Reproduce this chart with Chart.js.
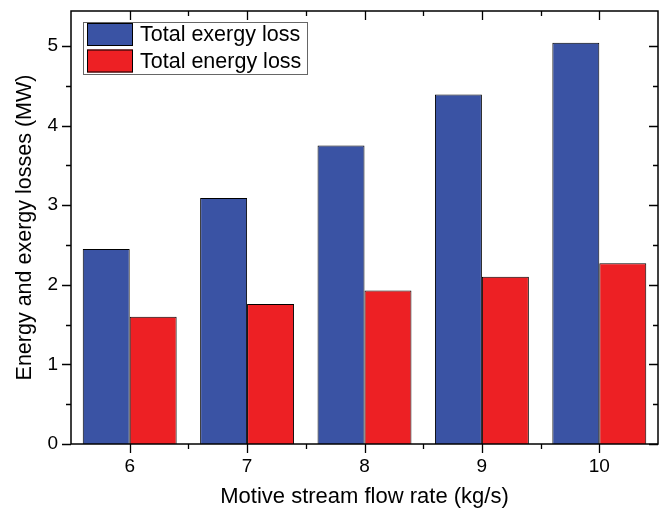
<!DOCTYPE html>
<html>
<head>
<meta charset="utf-8">
<script src="https://cdn.jsdelivr.net/npm/chart.js@4/dist/chart.umd.min.js"></script>
<style>
  html, body { margin: 0; padding: 0; background: #fff; }
  #wrap { width: 662px; height: 512px; }
</style>
</head>
<body>
<div id="wrap"><canvas id="c" width="662" height="512"></canvas></div>
<script>
const categories = ["6", "7", "8", "9", "10"];
const exergyLoss = [2.45, 3.09, 3.75, 4.39, 5.04];
const energyLoss = [1.60, 1.76, 1.93, 2.10, 2.27];
const seriesNames = ["Total exergy loss", "Total energy loss"];
const yTicks = [0, 1, 2, 3, 4, 5];
const xTitle = "Motive stream flow rate (kg/s)";
const yTitle = "Energy and exergy losses (MW)";

const FONT = "'Liberation Sans', Arial, sans-serif";
const BLUE = "#3A53A4";
const RED = "#ED2024";

const framePlugin = {
  id: "frame",
  afterDraw(chart) {
    const ctx = chart.ctx;
    const a = chart.chartArea;
    const xs = chart.scales.x, ys = chart.scales.y;
    ctx.save();
    ctx.strokeStyle = "#000";
    ctx.lineWidth = 1.5;
    ctx.strokeRect(a.left, a.top, a.right - a.left, a.bottom - a.top);
    ctx.lineWidth = 1.3;
    ctx.beginPath();
    for (let v = 0; v <= ys.max + 1e-9; v += 0.5) {
      const p = Math.round(ys.getPixelForValue(v)) + 0.5;
      const major = Math.abs(v - Math.round(v)) < 1e-9;
      const L = major ? 9 : 5;
      ctx.moveTo(a.left - L, p); ctx.lineTo(a.left, p);
      ctx.moveTo(a.right, p); ctx.lineTo(a.right - L, p);
    }
    const n = categories.length;
    for (let i = 0; i < n; i++) {
      const p = Math.round(xs.getPixelForValue(i)) + 0.5;
      ctx.moveTo(p, a.bottom); ctx.lineTo(p, a.bottom + 9);
      ctx.moveTo(p, a.top); ctx.lineTo(p, a.top + 9);
      if (i < n - 1) {
        const q = Math.round((xs.getPixelForValue(i) + xs.getPixelForValue(i + 1)) / 2) + 0.5;
        ctx.moveTo(q, a.bottom); ctx.lineTo(q, a.bottom + 5);
        ctx.moveTo(q, a.top); ctx.lineTo(q, a.top + 5);
      }
    }
    ctx.stroke();

    const lx = 83, ly = 22, lw = 224, lh = 52;
    ctx.fillStyle = "#fff";
    ctx.fillRect(lx, ly, lw, lh);
    ctx.strokeStyle = "#666";
    ctx.lineWidth = 1;
    ctx.strokeRect(lx + 0.5, ly + 0.5, lw, lh);
    chart.data.datasets.forEach((ds, k) => {
      const sy = ly + 1 + k * 26.5;
      ctx.fillStyle = ds.backgroundColor;
      ctx.fillRect(lx + 4, sy, 46, 23);
      ctx.strokeStyle = "#000";
      ctx.lineWidth = 1;
      ctx.strokeRect(lx + 4.5, sy + 0.5, 45, 22);
      ctx.fillStyle = "#000";
      ctx.font = "21.5px " + FONT;
      ctx.textBaseline = "middle";
      ctx.textAlign = "left";
      ctx.fillText(ds.label, lx + 57, sy + 12.5);
    });
    ctx.restore();
  }
};

new Chart(document.getElementById("c"), {
  type: "bar",
  data: {
    labels: categories,
    datasets: [
      { label: seriesNames[0], data: exergyLoss, backgroundColor: BLUE, borderColor: "#000", borderWidth: 1 },
      { label: seriesNames[1], data: energyLoss, backgroundColor: RED, borderColor: "#000", borderWidth: 1 }
    ]
  },
  options: {
    responsive: false,
    animation: false,
    devicePixelRatio: 1,
    layout: { padding: { top: 11, right: 4, left: 0, bottom: 0 } },
    datasets: { bar: { categoryPercentage: 0.8, barPercentage: 1.0 } },
    plugins: { legend: { display: false }, tooltip: { enabled: false } },
    scales: {
      x: {
        type: "category",
        offset: true,
        grid: { display: false, drawTicks: false },
        border: { display: false },
        ticks: { color: "#000", font: { family: FONT, size: 19 }, padding: 11, maxRotation: 0 },
        title: { display: true, text: xTitle, color: "#000", font: { family: FONT, size: 22 }, padding: { top: 0, bottom: 2 } },
        afterFit(s) { s.height = 68; s.paddingLeft = 0; s.paddingRight = 0; }
      },
      y: {
        min: 0,
        max: 5.44,
        grid: { display: false, drawTicks: false },
        border: { display: false },
        afterBuildTicks(s) { s.ticks = yTicks.map(v => ({ value: v })); },
        ticks: { color: "#000", font: { family: FONT, size: 19 }, padding: 13, includeBounds: false },
        title: { display: true, text: yTitle, color: "#000", font: { family: FONT, size: 21.5 }, padding: { top: 12, bottom: 0 } },
        afterFit(s) { s.width = 71; s.paddingTop = 0; s.paddingBottom = 0; }
      }
    }
  },
  plugins: [framePlugin]
});
</script>
</body>
</html>
